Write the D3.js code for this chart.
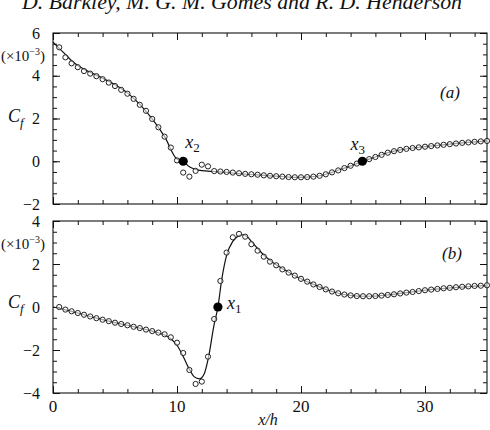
<!DOCTYPE html>
<html><head><meta charset="utf-8">
<script src="https://cdn.jsdelivr.net/npm/d3@7"></script>
<style>body{margin:0;background:#fff}svg{display:block}svg text{font-family:"Liberation Serif","Times New Roman",Times,Tinos,"DejaVu Serif",serif !important;fill:#111}</style>
</head><body><svg id="c" width="490" height="430"></svg>
<script>
// ---- data ----
const headerText = "D. Barkley, M. G. M. Gomes and R. D. Henderson";
const xTicks = [0, 10, 20, 30];
const yTicksA = [-2, 0, 2, 4, 6];
const yTicksB = [-4, -2, 0, 2, 4];

// panel (a): circles
const circAx = [0.5,1,1.5,2,2.5,3,3.5,4,4.5,5,5.5,6,6.5,7,7.5,8,8.5,9,9.5,10,10.5,11,11.5,12,12.5,13,13.5,14,14.5,15,15.5,16,16.5,17,17.5,18,18.5,19,19.5,20,20.5,21,21.5,22,22.5,23,23.5,24,24.5,25,25.5,26,26.5,27,27.5,28,28.5,29,29.5,30,30.5,31,31.5,32,32.5,33,33.5,34,34.5,35];
const circAy = [5.33,4.86,4.58,4.40,4.22,4.10,3.98,3.84,3.68,3.52,3.34,3.16,2.92,2.64,2.36,1.98,1.59,1.15,0.64,0.04,-0.53,-0.72,-0.45,-0.16,-0.24,-0.46,-0.48,-0.50,-0.53,-0.56,-0.59,-0.61,-0.63,-0.66,-0.68,-0.70,-0.72,-0.74,-0.75,-0.75,-0.74,-0.72,-0.68,-0.61,-0.52,-0.43,-0.32,-0.21,-0.11,0.0,0.10,0.20,0.30,0.40,0.47,0.53,0.58,0.62,0.65,0.68,0.71,0.74,0.77,0.80,0.83,0.86,0.88,0.91,0.93,0.95];
// panel (a): solid line
const lineAx = [0,0.5,1,1.5,2,2.5,3,3.5,4,5,6,7,8,9,10,10.5,11,11.5,12,13,14,15,16,17,18,19,19.7,20.5,21.5,22.5,23.5,24.5,25,26,27,28,29,30,32,35];
const lineAy = [5.58,5.28,5.0,4.70,4.48,4.31,4.16,4.03,3.89,3.58,3.20,2.66,1.98,1.15,0.10,0,-0.26,-0.38,-0.44,-0.48,-0.52,-0.58,-0.62,-0.66,-0.70,-0.74,-0.75,-0.74,-0.68,-0.52,-0.32,-0.11,0.0,0.20,0.40,0.53,0.62,0.68,0.80,0.95];

// panel (b): circles
const circBx = circAx;
const circBy = [0.0,-0.12,-0.20,-0.28,-0.36,-0.44,-0.52,-0.59,-0.66,-0.73,-0.79,-0.85,-0.92,-0.98,-1.05,-1.12,-1.19,-1.27,-1.41,-1.66,-2.14,-2.93,-3.58,-3.47,-2.31,-0.56,1.21,2.53,3.24,3.40,3.27,2.92,2.62,2.34,2.11,1.94,1.75,1.60,1.46,1.31,1.18,1.05,0.93,0.82,0.72,0.64,0.58,0.54,0.51,0.50,0.50,0.51,0.53,0.56,0.59,0.63,0.67,0.70,0.74,0.78,0.81,0.84,0.87,0.89,0.92,0.94,0.96,0.98,0.99,1.01];
// panel (b): solid line
const lineBx = [0,1,2,3,4,5,6,7,8,8.5,9,9.5,10,10.5,11,11.4,11.8,12.2,12.5,13,13.3,13.6,14,14.5,15,15.3,15.7,16,16.5,17,17.5,18,19,20,21,22,23,24,25,26,27,28,30,32,35];
const lineBy = [0.0,-0.13,-0.28,-0.44,-0.59,-0.73,-0.85,-0.98,-1.12,-1.20,-1.30,-1.48,-1.78,-2.30,-2.90,-3.25,-3.34,-3.10,-2.45,-0.80,0,1.25,2.40,3.05,3.32,3.36,3.25,3.05,2.72,2.42,2.17,1.96,1.62,1.31,1.05,0.82,0.64,0.54,0.50,0.51,0.56,0.63,0.78,0.89,1.01];

// special points
const ptsA = [{x:10.5, y:0, label:"x", sub:"2"}, {x:24.95, y:0, label:"x", sub:"3"}];
const ptsB = [{x:13.3, y:0, label:"x", sub:"1"}];

// ---- drawing ----
const svg = d3.select("#c");
const L = 53, R = 487;
const x = d3.scaleLinear().domain([0,35]).range([L,R]);

svg.append("text").attr("x",22).attr("y",9).attr("font-style","italic")
  .attr("font-size",21).attr("textLength",440).attr("lengthAdjust","spacingAndGlyphs").text(headerText);

function panel(top, bottom, ydom, yTicks, cx, cy, lx, ly, pts, tag, tagPos, cfY) {
  const y = d3.scaleLinear().domain(ydom).range([bottom, top]);
  const g = svg.append("g");
  g.append("rect").attr("x",L).attr("y",top).attr("width",R-L).attr("height",bottom-top)
    .attr("fill","none").attr("stroke","#111").attr("stroke-width",1.1);
  const xMinor = d3.range(0,35.01,2);
  const xa = d3.axisBottom(x).tickValues(xMinor).tickSize(-4).tickFormat("");
  const xb = d3.axisBottom(x).tickValues(xTicks).tickSize(-7).tickFormat("");
  const xt = d3.axisTop(x).tickValues(xMinor).tickSize(-4).tickFormat("");
  const xtM = d3.axisTop(x).tickValues(xTicks).tickSize(-7).tickFormat("");
  [[xa,bottom],[xb,bottom],[xt,top],[xtM,top]].forEach(([ax,ty])=>{
    const a = g.append("g").attr("transform",`translate(0,${ty})`).call(ax);
    a.select(".domain").remove(); a.selectAll("line").attr("stroke","#111");
  });
  const yMinor = d3.range(ydom[0], ydom[1]+0.001, 0.5);
  const yl = d3.axisLeft(y).tickValues(yMinor).tickSize(-4).tickFormat("");
  const ylM = d3.axisLeft(y).tickValues(yTicks).tickSize(-7).tickFormat(d=>d<0?"\u2212"+(-d):d).tickPadding(13);
  const yr = d3.axisRight(y).tickValues(yMinor).tickSize(-4).tickFormat("");
  const yrM = d3.axisRight(y).tickValues(yTicks).tickSize(-7).tickFormat("");
  [[yl,L],[ylM,L],[yr,R],[yrM,R]].forEach(([ax,tx])=>{
    const a = g.append("g").attr("transform",`translate(${tx},0)`).call(ax);
    a.select(".domain").remove(); a.selectAll("line").attr("stroke","#111");
    a.selectAll("text").attr("font-size",16).attr("fill","#111");
  });
  const m = g.append("text").attr("x",45).attr("y",y(yTicks[yTicks.length-1])+28).attr("text-anchor","end").attr("font-size",15);
  m.append("tspan").text("(\u00d710");
  m.append("tspan").attr("dy",-6).attr("font-size",10).text("\u22123");
  m.append("tspan").attr("dy",6).text(")");
  const c = g.append("text").attr("x",8).attr("y",cfY).attr("font-size",18).attr("font-style","italic");
  c.append("tspan").text("C");
  c.append("tspan").attr("dy",5).attr("font-size",13).text("f");
  const line = d3.line().x(d=>x(d[0])).y(d=>y(d[1])).curve(d3.curveMonotoneX);
  g.append("path").datum(lx.map((v,i)=>[v,ly[i]])).attr("d",line)
    .attr("fill","none").attr("stroke","#111").attr("stroke-width",1.2);
  g.selectAll("circle.o").data(cx.map((v,i)=>[v,cy[i]])).join("circle").attr("class","o")
    .attr("cx",d=>x(d[0])).attr("cy",d=>y(d[1])).attr("r",2.6)
    .attr("fill","#fff").attr("fill-opacity",0.6).attr("stroke","#222").attr("stroke-width",1);
  pts.forEach(p=>{
    g.append("circle").attr("cx",x(p.x)).attr("cy",y(p.y)).attr("r",4.6).attr("fill","#000");
  });
  g.append("text").attr("x",tagPos[0]).attr("y",tagPos[1]).attr("font-size",17).attr("font-style","italic").text(tag);
  return y;
}

const yA = panel(33, 204, [-2,6], yTicksA, circAx, circAy, lineAx, lineAy, ptsA, "(a)", [440, 98], 122);
const yB = panel(221, 393, [-4,4], yTicksB, circBx, circBy, lineBx, lineBy, ptsB, "(b)", [442, 259], 308);

function ptLabel(px, py, sub){
  const t = svg.append("text").attr("x",px).attr("y",py).attr("font-size",18).attr("font-style","italic");
  t.append("tspan").text("x");
  t.append("tspan").attr("dy",4).attr("font-size",13).attr("font-style","normal").text(sub);
}
ptLabel(x(ptsA[0].x)+2, yA(0)-13, ptsA[0].sub);
ptLabel(x(ptsA[1].x)-12, yA(0)-11, ptsA[1].sub);
ptLabel(x(ptsB[0].x)+9, yB(0)+2, ptsB[0].sub);

svg.selectAll("text.xl").data(xTicks).join("text").attr("class","xl")
  .attr("x",d=>x(d)).attr("y",412).attr("text-anchor","middle").attr("font-size",17).text(d=>d);
svg.append("text").attr("x",268).attr("y",425).attr("text-anchor","middle").attr("font-size",16).attr("font-style","italic").text("x/h");
</script></body></html>
